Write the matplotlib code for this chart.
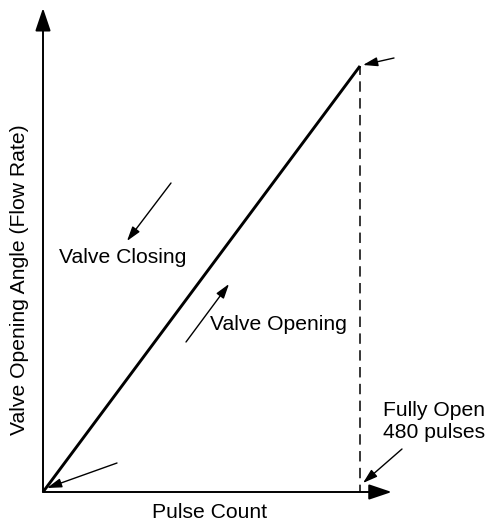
import matplotlib
matplotlib.use("Agg")
import matplotlib.pyplot as plt

# Valve characteristic: opening angle grows linearly with pulse count
pulses = [0, 480]          # pulse count
opening = [0, 100]         # valve opening (% of full angle)
full_open_pulses = 480
x_axis_end = 528           # length of the pulse-count axis arrow
y_axis_end = 113.6         # length of the opening-angle axis arrow

W, H = 488, 524
X0, Y0 = 43, 492           # canvas position of the origin
SX = 317 / 480             # canvas px per pulse
SY = 426 / 100             # canvas px per % opening


def at(px, py):
    """Canvas pixel position -> data coordinates."""
    return ((px - X0) / SX, (Y0 - py) / SY)


plt.rcParams['font.family'] = ['Liberation Sans', 'DejaVu Sans']
fig = plt.figure(figsize=(W / 100, H / 100), dpi=100)
ax = fig.add_axes([0, 0, 1, 1])
ax.set_xlim(at(0, 0)[0], at(W, 0)[0])
ax.set_ylim(at(0, H)[1], at(0, 0)[1])
ax.axis('off')

FS = 15.2
big_head = '-|>,head_length=0.8,head_width=0.27'
small_head = '-|>,head_length=0.8,head_width=0.25'

# axes drawn as arrows
ax.annotate('', xy=(x_axis_end, 0), xytext=(0, 0),
            arrowprops=dict(arrowstyle=big_head, mutation_scale=17.5, lw=1.4,
                            color='black', shrinkA=0, shrinkB=0))
ax.annotate('', xy=(0, y_axis_end), xytext=(0, 0),
            arrowprops=dict(arrowstyle=big_head, mutation_scale=17.5, lw=1.4,
                            color='black', shrinkA=0, shrinkB=0))

# characteristic line and full-open marker
ax.plot(pulses, opening, color='black', lw=2.1, solid_capstyle='butt')
ax.plot([full_open_pulses, full_open_pulses], [0, opening[-1]], color='black',
        lw=1.1, linestyle=(2, (6.8, 4.2)))


def arrow(tail, tip):
    ax.annotate('', xy=at(*tip), xytext=at(*tail),
                arrowprops=dict(arrowstyle=small_head, mutation_scale=11, lw=1.0,
                                color='black', shrinkA=0, shrinkB=0))


arrow((394, 58), (363, 65))      # top of the line
arrow((117, 463), (47, 488))     # origin
arrow((402, 449), (363, 483))    # fully open point on axis
arrow((171, 183), (127, 241))    # closing direction
arrow((186, 342), (229, 284))    # opening direction

ax.text(*at(59, 258), 'Valve Closing', fontsize=FS, ha='left', va='center')
ax.text(*at(210, 325), 'Valve Opening', fontsize=FS, ha='left', va='center')
ax.text(*at(434, 422), f'Fully Open\n{full_open_pulses} pulses', fontsize=FS,
        ha='center', va='center', multialignment='center', linespacing=1.2)
ax.text(*at(210, 513), 'Pulse Count', fontsize=FS, ha='center', va='center')
ax.text(*at(20, 280), 'Valve Opening Angle (Flow Rate)', fontsize=FS,
        ha='center', va='center', rotation=90)

fig.savefig('out.png', dpi=100)
